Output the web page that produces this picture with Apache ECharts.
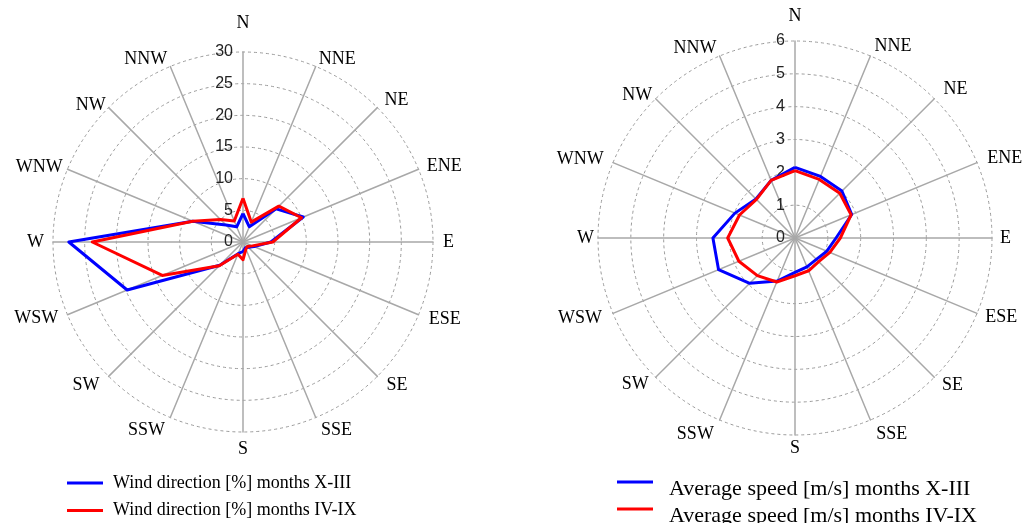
<!DOCTYPE html>
<html><head><meta charset="utf-8">
<script src="https://cdn.jsdelivr.net/npm/echarts@6/dist/echarts.min.js"></script>
<style>html,body{margin:0;padding:0;background:#fff}#c{width:1026px;height:523px}</style>
</head><body><div id="c"></div>
<script>
const directions = ['N','NNE','NE','ENE','E','ESE','SE','SSE','S','SSW','SW','WSW','W','WNW','NW','NNW'];
const freqTicks = [0,5,10,15,20,25,30];
const speedTicks = [0,1,2,3,4,5,6];
const freqColdMonths = [4.5,2.6,7.4,10.3,4.4,1.9,1.2,1.0,1.5,2.0,5.2,19.8,27.5,8.6,3.8,2.6];
const freqWarmMonths = [6.9,3.4,8.0,10.0,4.7,1.6,1.0,1.2,2.8,2.1,5.3,13.8,23.8,8.6,5.0,3.6];
const speedColdMonths = [2.15,2.03,2.02,1.87,1.25,1.05,0.92,0.95,1.05,1.42,1.95,2.52,2.50,1.98,1.68,1.90];
const speedWarmMonths = [2.05,1.93,1.93,1.85,1.38,1.15,1.02,1.08,1.15,1.45,1.62,1.85,2.05,1.83,1.66,1.90];
const names = [
  'Wind direction [%] months X-III','Wind direction [%] months IV-IX',
  'Average speed [m/s] months X-III','Average speed [m/s] months IV-IX'
];
const BLUE = '#0000ff', RED = '#ff0000';

// radar places indicators counter-clockwise: reorder so the compass runs clockwise
const order = [0].concat(directions.map((d,i)=>i).slice(1).reverse());
const reorder = arr => order.map(i => arr[i]);

// distance of direction names from the outer ring (by compass index)
const gapsLeft  = [20,8,10,9,10,11,13,14,8,14,13,10,9,5,4,8];
const gapsRight = [16,11,13,11,8,9,11,15,4,15,10,12,4,10,5,8];

function makeRadar(center, radius, ticks, gaps) {
  const max = ticks[ticks.length-1];
  return {
    center: center, radius: radius, startAngle: 90, shape: 'circle',
    splitNumber: ticks.length - 1,
    indicator: order.map((i,k) => {
      const ind = {name: directions[i], min: 0, max: max, nameGap: gaps[i]};
      if (k === 0) {
        ind.axisLabel = {show: true, color: '#222', fontFamily: 'Liberation Sans', fontSize: 16, margin: 10,
          formatter: v => ticks.indexOf(v) >= 0 ? String(v) : ''};
      }
      return ind;
    }),
    axisName: {color: '#000', fontFamily: 'Liberation Serif', fontSize: 18},
    axisLine: {lineStyle: {color: '#a8a8a8', width: 1.5}},
    splitLine: {lineStyle: {color: '#9a9a9a', type: [3,3], width: 1}},
    splitArea: {show: false},
    axisTick: {show: false},
    axisLabel: {show: false}
  };
}

// left legends: line centred on text; right legends: line sits ~7px above the text centre
const ICON_LEFT = 'rect';
const ICON_RIGHT = 'path://M0,17L0,17M0,0L36,0L36,3L0,3Z';

function makeLegend(left, top, name, color, fontSize, textPad, icon, itemHeight) {
  return {
    left: left, top: top, orient: 'vertical', icon: icon, padding: 0,
    itemWidth: 36, itemHeight: itemHeight, symbolKeepAspect: false,
    itemStyle: {color: color},
    textStyle: {color: '#000', fontFamily: 'Liberation Serif', fontSize: fontSize, lineHeight: 20, padding: textPad},
    data: [name]
  };
}

const chart = echarts.init(document.getElementById('c'), null, {renderer: 'canvas'});
chart.setOption({
  animation: false,
  radar: [makeRadar([243, 242], 190, freqTicks, gapsLeft), makeRadar([795, 238], 197, speedTicks, gapsRight)],
  legend: [
    makeLegend(67, 473, names[0], BLUE, 18, [0,0,0,5], ICON_LEFT, 3),
    makeLegend(67, 500.5, names[1], RED, 18, [0,0,0,5], ICON_LEFT, 3),
    makeLegend(617, 478, names[2], BLUE, 22, [0,0,0,11], ICON_RIGHT, 17),
    makeLegend(617, 505, names[3], RED, 22, [0,0,0,11], ICON_RIGHT, 17)
  ],
  series: [
    {type: 'radar', radarIndex: 0, symbol: 'none',
     data: [
       {name: names[0], value: reorder(freqColdMonths), lineStyle: {color: BLUE, width: 3}, itemStyle: {color: BLUE}},
       {name: names[1], value: reorder(freqWarmMonths), lineStyle: {color: RED, width: 3}, itemStyle: {color: RED}}
     ]},
    {type: 'radar', radarIndex: 1, symbol: 'none',
     data: [
       {name: names[2], value: reorder(speedColdMonths), lineStyle: {color: BLUE, width: 3}, itemStyle: {color: BLUE}},
       {name: names[3], value: reorder(speedWarmMonths), lineStyle: {color: RED, width: 3}, itemStyle: {color: RED}}
     ]}
  ]
});
</script></body></html>
